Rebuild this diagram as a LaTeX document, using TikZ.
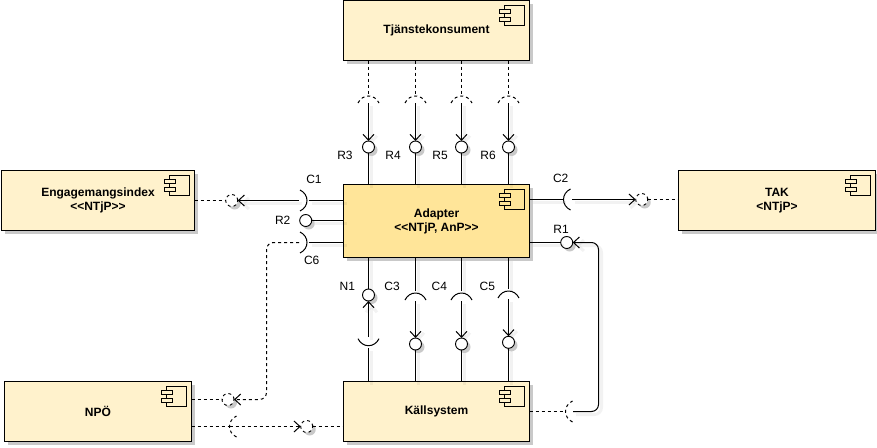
\documentclass[tikz,border=0pt]{standalone}
\usepackage{fontspec}
\setmainfont{Liberation Sans}
\usetikzlibrary{arrows.meta,shadows}
\definecolor{boxfill}{HTML}{FFF2CC}
\definecolor{adapterfill}{HTML}{FFE599}
\tikzset{
	>={Straight Barb[length=6pt,width=11pt]},
	every node/.style={font=\fontsize{12}{14}\selectfont},
	softshadow/.style={drop shadow={shadow xshift=3pt,shadow yshift=-3pt,fill=black!30,opacity=0.7}},
	comp/.style={draw,line width=1.1pt,fill=boxfill,align=center,outer sep=0pt,inner sep=0pt,
		font=\fontsize{12}{14}\selectfont\bfseries,softshadow,
		execute at begin node={\vspace*{3pt}}},
	lolli/.style={circle,draw,line width=0.9pt,fill=white,minimum size=12pt,inner sep=0pt,outer sep=0pt,softshadow},
	lollidash/.style={lolli,dash pattern=on 3pt off 3pt},
	shade line/.style={preaction={draw=black,draw opacity=0.05,line width=3pt,
		transform canvas={xshift=3pt,yshift=-3pt}}},
	line/.style={line width=1pt,shade line},
	dashline/.style={line width=1pt,dash pattern=on 3pt off 3pt},
	socket/.pic={\draw (-10.5,7) .. controls (-6,-2.33) and (6,-2.33) .. (10.5,7);},
}

\begin{document}
\begin{tikzpicture}[x=1pt,y=-1pt]
\useasboundingbox (0,0) rectangle (877,447);

\node [comp,minimum width=186pt,minimum height=60pt] (tk) at (436.5,30.5) {Tjänstekonsument};
\node [comp,minimum width=186pt,minimum height=73pt,fill=adapterfill] (adapter) at (436.5,221) {Adapter\\<{}<NTjP, AnP>{}>};
\node [comp,minimum width=193pt,minimum height=60pt] (ei) at (98,200.5) {Engagemangsindex\\<{}<NTjP>{}>};
\node [comp,minimum width=197pt,minimum height=60pt] (tak) at (777,200.5) {TAK\\<NTjP>};
\node [comp,minimum width=187pt,minimum height=60pt] (npo) at (98,411.5) {NPÖ};
\node [comp,minimum width=186pt,minimum height=60pt] (ks) at (436.5,411.5) {Källsystem};

% component icons
\foreach \b/\c in {tk/boxfill,adapter/adapterfill,ei/boxfill,tak/boxfill,npo/boxfill,ks/boxfill} {
	\draw [line width=0.7pt] ([shift={(-25,5)}]\b.north east) rectangle ([shift={(-5,25)}]\b.north east);
	\draw [line width=0.7pt,fill=\c] ([shift={(-30,9)}]\b.north east) rectangle ([shift={(-19,13)}]\b.north east);
	\draw [line width=0.7pt,fill=\c] ([shift={(-30,17)}]\b.north east) rectangle ([shift={(-19,21)}]\b.north east);
}

% top row
\foreach \x/\i/\t/\lx in {368.5/3/R3/345,415.5/4/R4/393,461.5/5/R5/440,508.5/6/R6/488} {
	\node [lolli] (r\i) at (\x,147) {};
	\coordinate (sa\i) at (\x,94);
	\coordinate (sb\i) at (\x,103);
	\pic [dashline] at (\x,96) {socket};
	\draw [dashline] (tk.south -| sa\i) -- (sa\i);
	\draw [line,->] (sb\i) -- (r\i);
	\draw [line] (r\i) -- (r\i |- adapter.north);
	\node (lr\i) at (\lx,155) {\t};
}

% bottom row
\foreach \x/\i/\t/\lx/\top/\cy in {415.5/3/C3/392/293/344,461.5/4/C4/439.3/293/344,508.5/5/C5/487.3/291/342.3} {
	\node [lolli] (c\i) at (\x,\cy) {};
	\coordinate (ca\i) at (\x,\top-2);
	\coordinate (cb\i) at (\x,\top+8);
	\pic [line] at (\x,\top) {socket};
	\draw [line] (ca\i -| c\i) -- (adapter.south -| c\i);
	\draw [line,->] (cb\i) -- (c\i);
	\draw [line] (c\i) -- (c\i |- ks.north);
	\node (lc\i) at (\lx,286.7) {\t};
}
\node [lolli] (n1) at (368.5,295) {};
\coordinate (na) at (368.5,337);
\coordinate (nb) at (368.5,348);
\pic [line,rotate=180] at (368.5,345.7) {socket};
\draw [line] (n1) -- (n1 |- adapter.south);
\draw [line,->] (na) -- (n1);
\draw [line] (nb) -- (nb |- ks.north);
\node (ln1) at (347.3,286.7) {N1};

% left side
\node [lollidash] (eilolli) at (231.7,200.5) {};
\coordinate (c1a) at (299,200.5);
\coordinate (c1b) at (308.5,200.5);
\pic [line,rotate=-90] at (307,200.5) {socket};
\draw [line] (c1b) -- (c1b -| adapter.west);
\draw [line,->] (c1a) -- (eilolli);
\draw [dashline] (ei.east |- eilolli) -- (eilolli);
\node (lc1) at (314,179) {C1};

\node [lolli] (r2) at (305.7,220.5) {};
\draw [line] (r2) -- (r2 -| adapter.west);
\node (lr2) at (282.7,220) {R2};

\node [lollidash] (npololli) at (228,399.5) {};
\coordinate (c6a) at (299,242.5);
\coordinate (c6b) at (308.5,242.5);
\pic [line,rotate=-90] at (307,242.5) {socket};
\draw [line] (c6b) -- (c6b -| adapter.west);
\draw [dashline,->,rounded corners=7pt] (c6a) -- (266.5,242.5) -- (266.5,399.5) -- (npololli);
\draw [dashline] (npo.east |- npololli) -- (npololli);
\node (lc6) at (311.7,260) {C6};

% right side
\node [lollidash] (taklolli) at (641.7,199.5) {};
\coordinate (c2a) at (563,199.5);
\coordinate (c2b) at (572,199.5);
\pic [line,rotate=90] at (563.5,199.5) {socket};
\draw [line] (c2a) -- (c2a -| adapter.east);
\draw [line,->] (c2b) -- (taklolli);
\draw [dashline] (taklolli) -- (taklolli -| tak.west);
\node (lc2) at (560.7,178) {C2};

\node [lolli] (r1) at (566.7,242.5) {};
\coordinate (r1a) at (565.5,411.5);
\coordinate (r1b) at (573,411.5);
\pic [dashline,rotate=90] at (565.5,411.5) {socket};
\draw [line] (r1) -- (r1 -| adapter.east);
\draw [line,->,rounded corners=7pt] (r1b) -- (598.5,411.5) -- (598.5,242.5) -- (r1);
\draw [dashline] (ks.east |- r1a) -- (r1a);
\node (lr1) at (561,229) {R1};

% npo to kallsystem
\node [lollidash] (kslolli) at (306.7,426.5) {};
\coordinate (npoa) at (229.5,426.5);
\pic [dashline,rotate=90] at (229.5,426.5) {socket};
\draw [dashline] (npo.east |- npoa) -- (npoa);
\draw [dashline,->] (npoa) -- (kslolli);
\draw [dashline] (kslolli) -- (kslolli -| ks.west);

\end{tikzpicture}
\end{document}
